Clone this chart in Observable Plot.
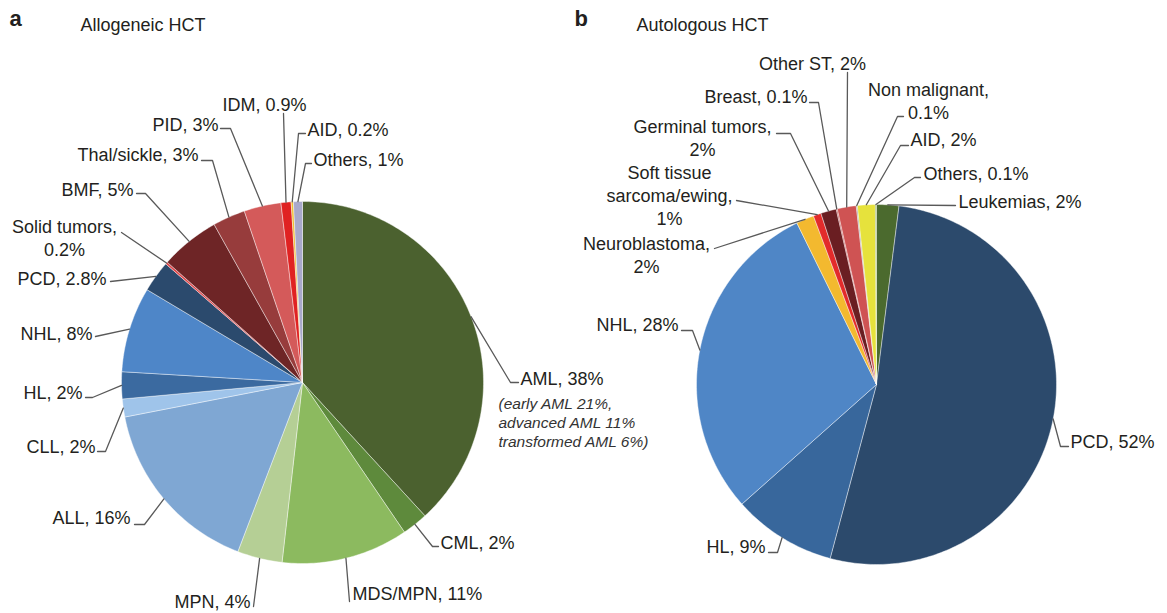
<!DOCTYPE html>
<html><head><meta charset="utf-8">
<script src="https://cdn.jsdelivr.net/npm/d3@7"></script>
<script src="https://cdn.jsdelivr.net/npm/@observablehq/plot@0.6"></script>
<style>html,body{margin:0;padding:0;background:#fff;} #chart svg{display:block;}</style>
</head><body><div id="chart"></div>
<script>
// ---------- DATA ----------
// Panel a: Allogeneic HCT (slice shares, clockwise from 12 o'clock)
const alloCategories = ["AML","CML","MDS/MPN","MPN","ALL","CLL","HL","NHL","PCD","Solid tumors","BMF","Thal/sickle","PID","IDM","AID","Others"];
const alloValues = [38.1, 2.3, 11.3, 4.0, 16.1, 1.6, 2.4, 7.6, 2.8, 0.2, 5.3, 2.9, 3.3, 0.9, 0.2, 0.8];
const alloLabels = ["AML, 38%","CML, 2%","MDS/MPN, 11%","MPN, 4%","ALL, 16%","CLL, 2%","HL, 2%","NHL, 8%","PCD, 2.8%","Solid tumors,\n0.2%","BMF, 5%","Thal/sickle, 3%","PID, 3%","IDM, 0.9%","AID, 0.2%","Others, 1%"];
const amlNote = "(early AML 21%,\nadvanced AML 11%\ntransformed AML 6%)";

// Panel b: Autologous HCT
const autoCategories = ["Leukemias","PCD","HL","NHL","Neuroblastoma","Soft tissue sarcoma/ewing","Germinal tumors","Breast","Other ST","Non malignant","AID","Others"];
const autoValues = [2.0, 52.2, 9.3, 29.3, 1.6, 0.7, 1.4, 0.1, 1.7, 0.1, 1.6, 0.1];
const autoLabels = ["Leukemias, 2%","PCD, 52%","HL, 9%","NHL, 28%","Neuroblastoma,\n2%","Soft tissue\nsarcoma/ewing,\n1%","Germinal tumors,\n2%","Breast, 0.1%","Other ST, 2%","Non malignant,\n0.1%","AID, 2%","Others, 0.1%"];

const panelLetters = ["a", "b"];
const panelTitles = ["Allogeneic HCT", "Autologous HCT"];

// ---------- STYLE ----------
const alloColors = ["#4b612f","#5e8a3c","#8cba5f","#b5cf95","#7fa7d3","#9fc4ea","#3b6aa0","#4e86c8","#2b4a6d","#e0474a","#6e2526","#973c3c","#d45a5a","#e02222","#f0c030","#a9a9cb"];
const autoColors = ["#4b6a2e","#2c4a6c","#38679c","#4f86c6","#f3b92f","#e32b2b","#6a1e22","#b84040","#cf5353","#9a9a9a","#e6e23c","#7a9a3a"];

// ---------- LAYOUT ----------
const W = 1167, H = 613;
const pieA = {cx: 302, cy: 382, r: 181};
const pieB = {cx: 876, cy: 384, r: 180};
const titleLayout = [{lx: 9, tx: 80, y: 25}, {lx: 574, tx: 636, y: 25}];
const alloLabelLayout = [
  {anchor:"start",  x:520, y:377, elbows:[[518,382],[510,382]]},
  {anchor:"start",  x:440, y:541, elbows:[[438,546],[432,546]]},
  {anchor:"start",  x:352, y:592, elbows:[[349,601]]},
  {anchor:"end",    x:250, y:600, elbows:[[253,606]]},
  {anchor:"end",    x:130, y:516, elbows:[[134,524],[144,524]]},
  {anchor:"end",    x:95,  y:445, elbows:[[97,451],[105,451]]},
  {anchor:"end",    x:82,  y:391, elbows:[[85,397],[92,397]]},
  {anchor:"end",    x:92,  y:332, elbows:[[95,336]]},
  {anchor:"end",    x:106, y:277, elbows:[[110,281]]},
  {anchor:"middle", x:64,  y:237, elbows:[[121,232]]},
  {anchor:"end",    x:133, y:188, elbows:[[136,193],[145,193]]},
  {anchor:"end",    x:198, y:153, elbows:[[201,160],[212,160]]},
  {anchor:"end",    x:218, y:123, elbows:[[220,128],[230,128]]},
  {anchor:"middle", x:264, y:103, elbows:[[283,113]]},
  {anchor:"start",  x:307, y:128, elbows:[[305,133],[298,133]]},
  {anchor:"start",  x:313, y:158, elbows:[[311,163],[305,163]]}
];
const amlNoteLayout = {x: 498, y: 421};
const autoLabelLayout = [
  {anchor:"start",  x:958,  y:200, elbows:[[955,205]]},
  {anchor:"start",  x:1070, y:440, elbows:[[1068,446],[1060,446]]},
  {anchor:"end",    x:765,  y:545, elbows:[[768,552],[777,552]]},
  {anchor:"end",    x:678,  y:323, elbows:[[681,330],[692,330]]},
  {anchor:"middle", x:646,  y:253.5, elbows:[[714,248]]},
  {anchor:"middle", x:669,  y:194.5, elbows:[[736,200]]},
  {anchor:"middle", x:702,  y:136.5, elbows:[[776,133],[790,133]]},
  {anchor:"end",    x:807,  y:95,  elbows:[[809,102],[818,102]]},
  {anchor:"middle", x:812,  y:62,  elbows:[[847,72]]},
  {anchor:"middle", x:928,  y:100, elbows:[[903,116],[897,116]]},
  {anchor:"start",  x:910,  y:138, elbows:[[908,145],[900,145]]},
  {anchor:"start",  x:923,  y:172, elbows:[[920,177],[914,177]]}
];

// ---------- GEOMETRY (derived from the values) ----------
function slices(values, pie) {
  const total = d3.sum(values);
  let acc = 0;
  return values.map((v, i) => {
    const a0 = acc / total * 2 * Math.PI; acc += v;
    const a1 = acc / total * 2 * Math.PI;
    return {i, a0, a1, mid: (a0 + a1) / 2};
  });
}
const pt = (pie, a, rr = pie.r) => [pie.cx + rr * Math.sin(a), pie.cy - rr * Math.cos(a)];

function wedgePoints(values, colors, pie, key) {
  const out = [];
  for (const s of slices(values, pie)) {
    const id = key + s.i;
    out.push({id, color: colors[s.i], x: pie.cx, y: pie.cy});
    const n = Math.max(2, Math.ceil((s.a1 - s.a0) / (Math.PI / 180)) + 1);
    for (let k = 0; k < n; k++) {
      const [x, y] = pt(pie, s.a0 + (s.a1 - s.a0) * k / (n - 1));
      out.push({id, color: colors[s.i], x, y});
    }
    out.push({id, color: colors[s.i], x: pie.cx, y: pie.cy});
  }
  return out;
}
function leaderPoints(values, layout, pie, key) {
  const out = [];
  slices(values, pie).forEach(s => {
    const L = layout[s.i];
    L.elbows.forEach(([x, y]) => out.push({id: key + s.i, x, y}));
    const [x, y] = pt(pie, s.mid);
    out.push({id: key + s.i, x, y});
  });
  return out;
}
function labelRows(labels, layout) {
  return labels.map((t, i) => ({text: t, ...layout[i]}));
}

const wedges = [...wedgePoints(alloValues, alloColors, pieA, "a"), ...wedgePoints(autoValues, autoColors, pieB, "b")];
const leaders = [...leaderPoints(alloValues, alloLabelLayout, pieA, "a"), ...leaderPoints(autoValues, autoLabelLayout, pieB, "b")];
const labels = [...labelRows(alloLabels, alloLabelLayout), ...labelRows(autoLabels, autoLabelLayout)];
const titles = panelTitles.map((t, i) => ({title: t, letter: panelLetters[i], ...titleLayout[i]}));

const textColor = "#231f20";
const font = "'Liberation Sans', Arial, Helvetica, sans-serif";
const labelMark = anchor => Plot.text(labels.filter(d => d.anchor === anchor), {
  x: "x", y: "y", text: "text", textAnchor: anchor, fontSize: 18, lineHeight: 1.28, fill: textColor
});

const chart = Plot.plot({
  width: W, height: H,
  margin: 0,
  style: {fontFamily: font, background: "#fff"},
  x: {domain: [0, W], range: [0, W], axis: null},
  y: {domain: [0, H], range: [0, H], axis: null},
  marks: [
    Plot.line(wedges, {x: "x", y: "y", z: "id", fill: "color", stroke: "#ffffff", strokeWidth: 0.6, strokeOpacity: 0.7, curve: "linear-closed"}),
    Plot.line(leaders, {x: "x", y: "y", z: "id", stroke: "#595959", strokeWidth: 1.3}),
    labelMark("start"), labelMark("end"), labelMark("middle"),
    Plot.text([amlNote], {x: () => amlNoteLayout.x, y: () => amlNoteLayout.y, text: d => d, textAnchor: "start", fontSize: 15.5, fontStyle: "italic", lineHeight: 1.23, fill: "#333"}),
    Plot.text(titles, {x: "lx", y: () => 18, text: "letter", textAnchor: "start", fontSize: 22, fontWeight: "bold", fill: textColor}),
    Plot.text(titles, {x: "tx", y: "y", text: "title", textAnchor: "start", fontSize: 18, fill: textColor})
  ]
});
document.getElementById("chart").appendChild(chart);
</script>
</body></html>
